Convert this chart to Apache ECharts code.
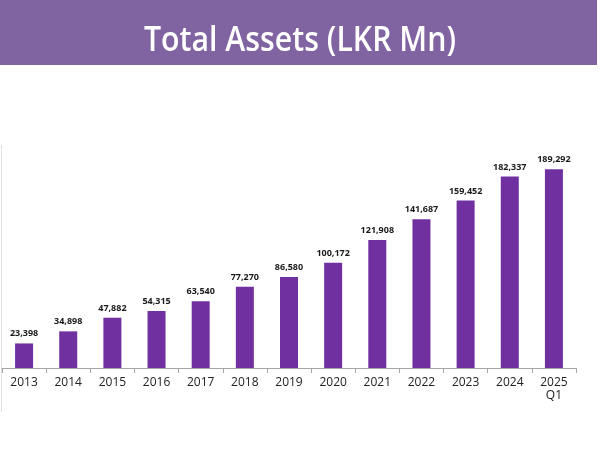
<!DOCTYPE html>
<html><head><meta charset="utf-8">
<script src="https://cdn.jsdelivr.net/npm/echarts@6/dist/echarts.min.js"></script>
<style>html,body{margin:0;padding:0;background:#fff}#c{width:600px;height:462px}</style>
</head><body><div id="c"></div>
<script>
const categories = ['2013','2014','2015','2016','2017','2018','2019','2020','2021','2022','2023','2024','2025\nQ1'];
const totalAssets = [23398,34898,47882,54315,63540,77270,86580,100172,121908,141687,159452,182337,189292];
const titleText = 'Total Assets (LKR Mn)';

const chart = echarts.init(document.getElementById('c'), null, {renderer:'canvas'});
chart.setOption({
  animation:false,
  backgroundColor:'#ffffff',
  graphic:[
    {type:'rect', left:0, top:0, shape:{width:597, height:65}, style:{fill:'#8064A2'}},
    {type:'line', shape:{x1:1.5,y1:145,x2:1.5,y2:412}, style:{stroke:'#e3e3e3', lineWidth:1}},
    {type:'text', x:300, y:41, scaleX:0.89, style:{text:titleText, fill:'#ffffff', align:'center', verticalAlign:'middle', textAlign:'center', textVerticalAlign:'middle', font:'600 34px "Open Sans", "Noto Sans", sans-serif'}}
  ],
  grid:{left:2, right:24, top:158, bottom:94, containLabel:false},
  xAxis:{
    type:'category', data:categories,
    axisLine:{lineStyle:{color:'#a6a6a6', width:1}},
    axisTick:{show:true, length:5, lineStyle:{color:'#a6a6a6'}},
    axisLabel:{color:'#222222', fontSize:12, fontFamily:'"Open Sans", "Noto Sans", sans-serif', margin:8, lineHeight:13, interval:0}
  },
  yAxis:{type:'value', min:0, max:200000, show:false, splitLine:{show:false}},
  series:[{
    type:'bar', data:totalAssets, barWidth:18,
    itemStyle:{color:'#7030A0'},
    label:{show:true, position:'top', distance:5, color:'#1a1a1a', fontSize:9, fontWeight:'bold',
      fontFamily:'"Open Sans", "Noto Sans", sans-serif',
      formatter:p=>p.value.toLocaleString('en-US')}
  }]
});
</script></body></html>
